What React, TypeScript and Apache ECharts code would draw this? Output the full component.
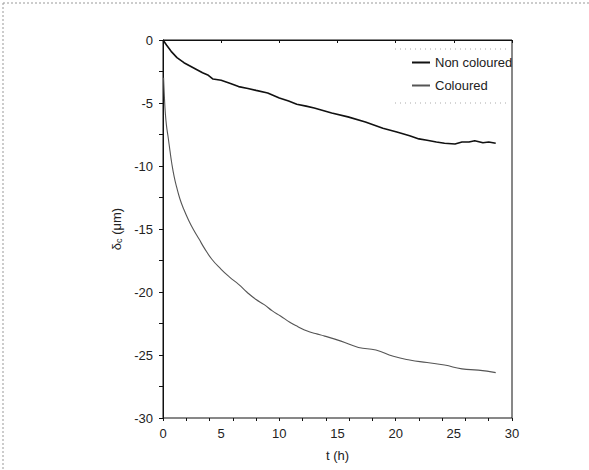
import React, { useEffect, useRef } from "react";
import * as echarts from "echarts";

const xTicks = [0, 5, 10, 15, 20, 25, 30];
const yTicks = [0, -5, -10, -15, -20, -25, -30];

const nonColouredT = [0, 0.3, 0.7, 1.2, 1.8, 2.4, 3.0, 3.4, 3.9, 4.3, 5.0, 5.8, 6.5, 7.3, 8.0, 9.0, 10.0, 10.8, 11.5, 12.3, 13.0, 14.5, 15.9, 17.4, 18.9, 20.1, 21.2, 22.0, 22.7, 23.5, 24.2, 25.1, 25.7, 26.3, 26.8, 27.5, 28.0, 28.6];
const nonColouredV = [0, -0.4, -0.9, -1.4, -1.8, -2.1, -2.4, -2.6, -2.8, -3.1, -3.2, -3.45, -3.7, -3.85, -4.0, -4.2, -4.6, -4.85, -5.1, -5.25, -5.4, -5.8, -6.1, -6.5, -7.0, -7.3, -7.6, -7.85, -7.95, -8.1, -8.2, -8.25, -8.1, -8.1, -8.0, -8.15, -8.1, -8.2];

const colouredT = [0.05, 0.12, 0.2, 0.3, 0.44, 0.6, 0.74, 0.95, 1.18, 1.45, 1.77, 2.2, 2.65, 3.1, 3.54, 4.2, 5.0, 5.7, 6.5, 7.2, 8.0, 8.7, 9.4, 10.1, 10.9, 11.6, 12.4, 13.1, 13.9, 15.3, 16.8, 18.3, 19.8, 21.2, 22.7, 24.2, 25.7, 27.1, 28.6];
const colouredV = [-3.0, -4.5, -5.8, -6.8, -7.7, -8.8, -9.7, -10.8, -11.7, -12.6, -13.4, -14.3, -15.1, -15.8, -16.5, -17.4, -18.2, -18.8, -19.4, -20.0, -20.6, -21.0, -21.5, -21.9, -22.4, -22.75, -23.1, -23.3, -23.5, -23.9, -24.4, -24.6, -25.1, -25.4, -25.6, -25.8, -26.1, -26.2, -26.4];

const seriesNames = ["Non coloured", "Coloured"];

export default function App() {
  const ref = useRef<HTMLDivElement>(null);
  useEffect(() => {
    if (!ref.current) return;
    const chart = echarts.init(ref.current, null, { renderer: "svg" });
    const font = "Liberation Sans, Arial, sans-serif";
    chart.setOption({
      animation: false,
      backgroundColor: "#fff",
      grid: {
        left: 163,
        right: 77,
        top: 40,
        bottom: 52,
        show: true,
        borderColor: "#111",
        borderWidth: 1,
        backgroundColor: "transparent",
      },
      legend: {
        orient: "vertical",
        left: 407,
        top: 50,
        itemWidth: 18,
        itemHeight: 2,
        itemGap: 8,
        icon: "rect",
        textStyle: { fontFamily: font, fontSize: 13, color: "#222", lineHeight: 15 },
        data: seriesNames,
      },
      xAxis: [
        {
          type: "value",
          min: xTicks[0],
          max: xTicks[xTicks.length - 1],
          interval: 5,
          name: "t (h)",
          nameLocation: "middle",
          nameGap: 31,
          nameTextStyle: { fontFamily: font, fontSize: 13, color: "#222" },
          axisLine: { show: true, lineStyle: { color: "#111", width: 1 } },
          axisTick: { show: true, length: 3, lineStyle: { color: "#111" } },
          axisLabel: { fontFamily: font, fontSize: 13, color: "#222", margin: 9 },
          splitLine: { show: false },
        },
        {
          type: "value",
          min: 0,
          max: 30,
          interval: 2,
          position: "bottom",
          axisLine: { show: false },
          axisTick: { show: true, length: 3, lineStyle: { color: "#111" } },
          axisLabel: { show: false },
          splitLine: { show: false },
        },
      ],
      yAxis: {
        type: "value",
        min: yTicks[yTicks.length - 1],
        max: yTicks[0],
        interval: 5,
        name: "{d|δ}{s|c}{d| (μm)}",
        nameLocation: "middle",
        nameGap: 40,
        nameTextStyle: {
          fontFamily: font,
          fontSize: 13,
          color: "#222",
          rich: {
            d: { fontFamily: font, fontSize: 13, color: "#222" },
            s: { fontFamily: font, fontSize: 9, color: "#222", verticalAlign: "bottom", padding: [4, 0, 0, 0] },
          },
        },
        axisLine: { show: true, lineStyle: { color: "#111", width: 1 } },
        axisTick: { show: true, length: 4, lineStyle: { color: "#111" } },
        minorTick: { show: true, splitNumber: 2, length: 4, lineStyle: { color: "#111" } },
        axisLabel: { fontFamily: font, fontSize: 13, color: "#222", margin: 10 },
        splitLine: { show: false },
      },
      series: [
        {
          name: seriesNames[0],
          type: "line",
          xAxisIndex: 0,
          showSymbol: false,
          symbol: "none",
          smooth: false,
          lineStyle: { color: "#111", width: 1.6 },
          itemStyle: { color: "#111" },
          data: nonColouredT.map((t, i) => [t, nonColouredV[i]]),
        },
        {
          name: seriesNames[1],
          type: "line",
          xAxisIndex: 0,
          showSymbol: false,
          symbol: "none",
          smooth: true,
          lineStyle: { color: "#555", width: 1.1 },
          itemStyle: { color: "#555" },
          data: colouredT.map((t, i) => [t, colouredV[i]]),
        },
      ],
      graphic: [
        { type: "line", shape: { x1: 3, y1: 3, x2: 589, y2: 3 }, style: { stroke: "#999", lineWidth: 1, lineDash: [2, 2] } },
        { type: "line", shape: { x1: 3, y1: 3, x2: 3, y2: 470 }, style: { stroke: "#999", lineWidth: 1, lineDash: [2, 2] } },
        { type: "line", shape: { x1: 395, y1: 49, x2: 510, y2: 49 }, style: { stroke: "#aaa", lineWidth: 1, lineDash: [1, 4] } },
        { type: "line", shape: { x1: 395, y1: 103, x2: 510, y2: 103 }, style: { stroke: "#aaa", lineWidth: 1, lineDash: [1, 4] } },
      ],
    });
    return () => chart.dispose();
  }, []);
  return <div ref={ref} style={{ width: 589, height: 470, position: "absolute", left: 0, top: 0 }} />;
}
